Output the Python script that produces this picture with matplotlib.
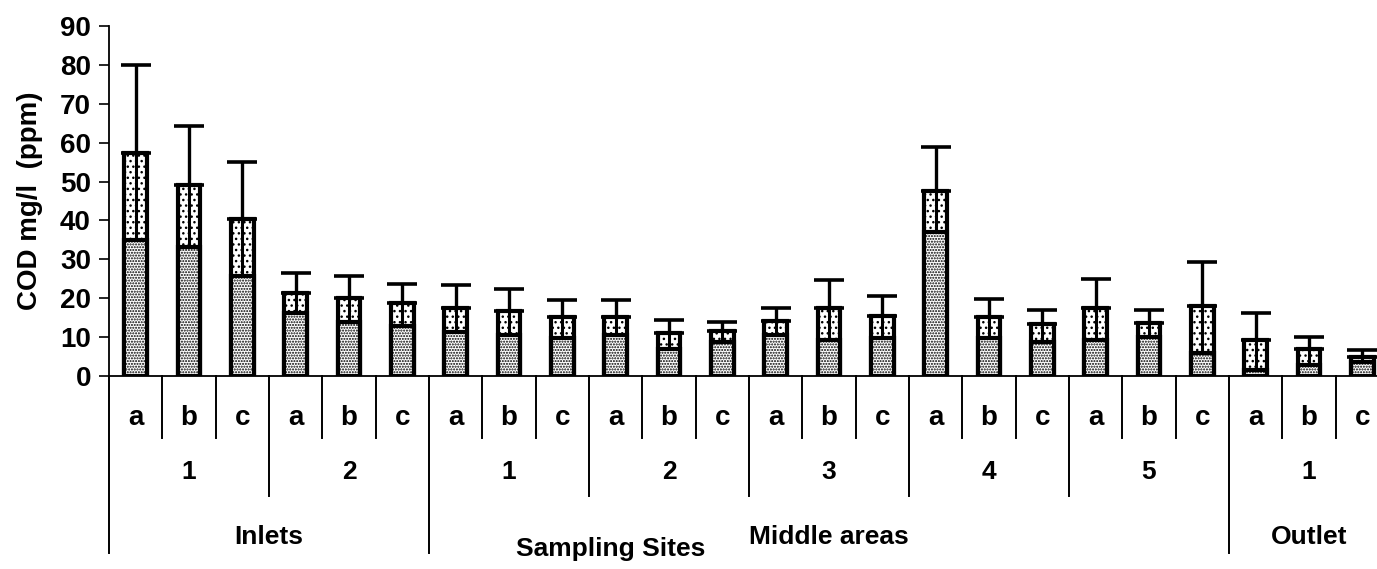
import numpy as np
import matplotlib.pyplot as plt
from matplotlib.transforms import blended_transform_factory

plt.rcParams['font.family'] = ['Liberation Sans', 'DejaVu Sans']
plt.rcParams['font.weight'] = 'bold'
plt.rcParams['hatch.linewidth'] = 1.0

# COD per sampling point: mean, lower part of bar, and upper spread
letters = ['a', 'b', 'c'] * 8
site_nums = ['1', '2', '1', '2', '3', '4', '5', '1']
groups = ['Inlets', 'Middle areas', 'Outlet']
group_sizes = [2, 5, 1]

mean = [57.3, 49.1, 40.3, 21.3, 20.0, 18.7,
        17.5, 16.8, 15.1, 15.3, 11.0, 11.7, 14.2, 17.4, 15.4,
        47.6, 15.1, 13.4, 17.4, 13.7, 18.0,
        9.3, 6.9, 5.0]
lower = [35.0, 33.3, 25.7, 16.1, 14.0, 12.9,
         11.2, 10.5, 9.9, 10.5, 6.9, 8.8, 10.5, 9.3, 9.7,
         37.1, 9.9, 8.8, 9.3, 10.1, 6.0,
         1.5, 2.8, 3.7]
sd = [22.7, 15.2, 14.7, 5.1, 5.7, 5.0,
      5.8, 5.6, 4.4, 4.2, 3.4, 2.3, 3.2, 7.3, 5.2,
      11.4, 4.7, 3.7, 7.5, 3.3, 11.2,
      7.0, 3.2, 1.7]

FS = 19
W, H = 1377, 569
fig = plt.figure(figsize=(W / 100, H / 100), dpi=100)
ax_h = 350
ax = fig.add_axes([109 / W, 193 / H, 1280 / W, ax_h / H])

x = np.arange(len(mean))
bw = 0.42
ax.bar(x, mean, width=bw, color='white', edgecolor='black', linewidth=3,
       hatch='...', zorder=2)
ax.bar(x, lower, width=bw, color='white', edgecolor='black', linewidth=3,
       hatch='......', zorder=3)
# the spread line runs down through the upper part of each bar
ax.vlines(x, lower, mean, color='black', lw=2.2, zorder=4)
ax.errorbar(x, mean, yerr=[np.zeros(len(sd)), sd], fmt='none', ecolor='black',
            elinewidth=2.4, capsize=11, capthick=2.6, zorder=1)

ax.set_xlim(-0.5, len(mean) - 0.5)
ax.set_ylim(0, 90)
ax.set_yticks(range(0, 91, 10))
ax.tick_params(axis='y', direction='out', length=7, width=1.2, labelsize=20, pad=6)
ax.set_xticks([])
for s in ['top', 'right']:
    ax.spines[s].set_visible(False)
ax.spines['left'].set_linewidth(1.3)
ax.spines['bottom'].set_linewidth(1.3)
ax.set_ylabel('COD mg/l  (ppm)', fontsize=20, fontweight='bold', labelpad=12)

tr = blended_transform_factory(ax.transData, ax.transAxes)


def below(px):
    return -px / ax_h


def vline(xpos, depth):
    ax.plot([xpos, xpos], [0, below(depth)], color='black', lw=1.4,
            transform=tr, clip_on=False)


# letter row
for i, lab in enumerate(letters):
    ax.text(i, below(42), lab, transform=tr, ha='center', va='center',
            fontsize=20, fontweight='bold')

# separators: group > site > letter
group_edges = [0]
for g in group_sizes:
    group_edges.append(group_edges[-1] + g * 3)
site_edges = list(range(0, len(mean) + 1, 3))
for b in range(len(mean) + 1):
    if b in group_edges:
        vline(b - 0.5, 177)
    elif b in site_edges:
        vline(b - 0.5, 120)
    else:
        vline(b - 0.5, 62)

# site number row
for k, num in enumerate(site_nums):
    ax.text(3 * k + 1, below(96), num, transform=tr, ha='center', va='center',
            fontsize=FS, fontweight='bold')

# group row
for g, name in enumerate(groups):
    c = (group_edges[g] + group_edges[g + 1]) / 2 - 0.5
    ax.text(c, below(161), name, transform=tr, ha='center', va='center',
            fontsize=FS, fontweight='bold')

ax.text(8.9, below(173), 'Sampling Sites', transform=tr, ha='center',
        va='center', fontsize=FS, fontweight='bold')

fig.savefig('out.png', dpi=100)
